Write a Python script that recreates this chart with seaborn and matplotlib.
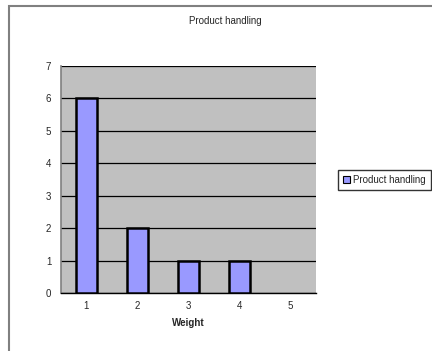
import matplotlib
matplotlib.use("Agg")
import matplotlib.pyplot as plt
from matplotlib.patches import Rectangle
import seaborn as sns
import pandas as pd

# Counts of responses per weight rating
weights = ["1", "2", "3", "4", "5"]
counts = [6, 2, 1, 1, 0]
series_name = "Product handling"
y_ticks = [0, 1, 2, 3, 4, 5, 6, 7]

sns.set_style("white")
plt.rcParams["font.family"] = ["Liberation Sans", "DejaVu Sans"]
plt.rcParams["font.size"] = 7

df = pd.DataFrame({"Weight": weights, "Count": counts, "Series": series_name})

fig = plt.figure(figsize=(4.32, 3.51), dpi=100)
fig.patch.set_facecolor("white")

# Outer chart frame
fig.add_artist(Rectangle((8.5 / 432, -0.05), 1.2, 1 - 5.5 / 351 + 0.05,
                         transform=fig.transFigure, fill=False,
                         edgecolor="#808080", linewidth=1.5))

ax = fig.add_axes([61 / 432, 1 - 293 / 351, 255 / 432, 227 / 351])
ax.set_facecolor("#c0c0c0")

sns.barplot(data=df, x="Weight", y="Count", hue="Series",
            palette=["#9999ff"], saturation=1, width=0.4, edgecolor="black",
            linewidth=1.8, ax=ax, zorder=3, legend=True)

# Empty categories get no outline
for p in ax.patches:
    if p.get_height() == 0:
        p.set_linewidth(0)

ax.set_ylim(0, 7)
ax.set_xlim(-0.5, 4.5)
ax.set_yticks(y_ticks)
ax.set_yticklabels([str(t) for t in y_ticks])
ax.grid(axis="y", color="black", linewidth=0.9, zorder=1)
ax.set_axisbelow(True)

# Ticks sit between categories on the x axis
ax.set_xticks(range(5))
ax.set_xticklabels(weights)
ax.tick_params(axis="x", length=0, pad=6)
ax.set_xticks([i - 0.5 for i in range(6)], minor=True)
ax.tick_params(axis="x", which="minor", length=3, width=1, color="black", direction="out")
ax.tick_params(axis="y", length=3, width=1, color="black", direction="out", pad=4)

for side in ["top", "right"]:
    ax.spines[side].set_visible(False)
ax.spines["left"].set_color("#808080")
ax.spines["left"].set_linewidth(1.2)
ax.spines["bottom"].set_color("black")
ax.spines["bottom"].set_linewidth(1.0)

ax.set_xlabel("Weight", fontweight="bold", labelpad=5)
ax.set_ylabel("")
fig.text(225 / 432, 1 - 21 / 351, series_name, ha="center", va="center")

leg = ax.legend(loc="center left", bbox_to_anchor=(337.5 / 432, 1 - 180 / 351),
                bbox_transform=fig.transFigure, frameon=True, fancybox=False,
                edgecolor="black", handlelength=0.75, handleheight=0.75,
                handletextpad=0.3, borderpad=0.55, borderaxespad=0)
leg.get_frame().set_linewidth(1.0)
for h in leg.legend_handles:
    h.set_linewidth(0.8)

fig.savefig("out.png", dpi=100)
